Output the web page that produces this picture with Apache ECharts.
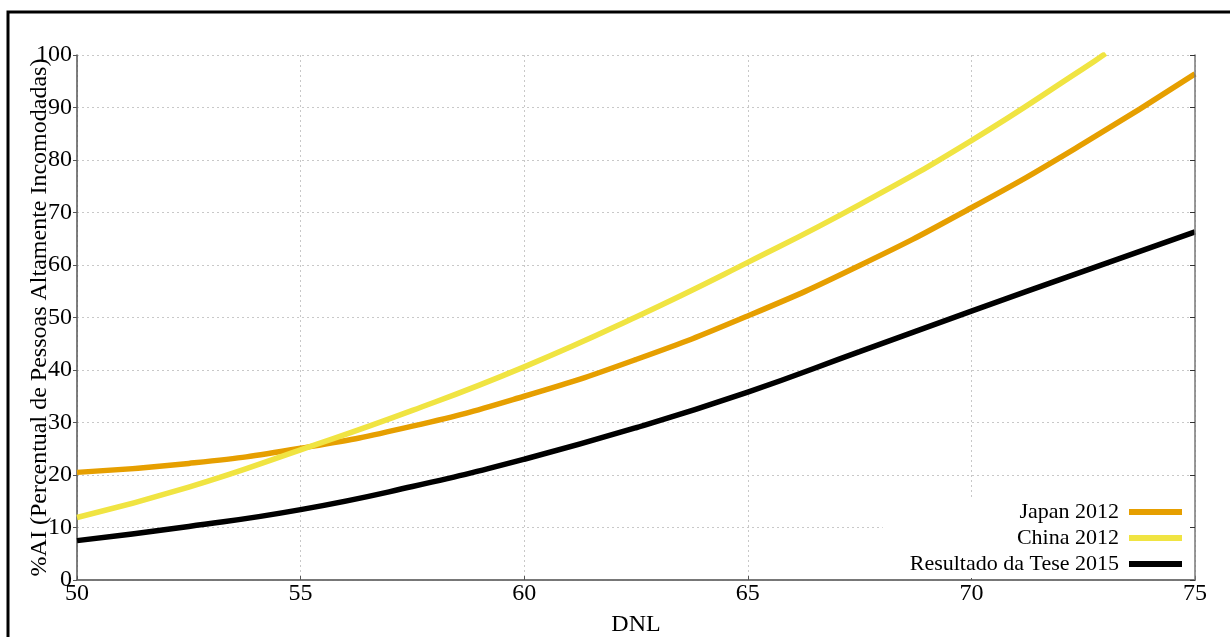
<!DOCTYPE html>
<html>
<head>
<meta charset="utf-8">
<script src="https://cdn.jsdelivr.net/npm/echarts@6/dist/echarts.min.js"></script>
<style>
  html, body { margin: 0; padding: 0; background: #fff; }
  #chart { width: 1230px; height: 637px; }
</style>
</head>
<body>
<div id="chart"></div>
<script>
// DNL sample positions (dB)
const dnl = [50, 52.5, 55, 57.5, 60, 62.5, 65, 67.5, 70, 72.5, 75];
const dnlChina = [50, 52.5, 55, 57.5, 60, 62.5, 65, 67.5, 70, 72.5, 73];

// %HA curves
const japan2012 = [20.5, 22.2, 25.1, 29.3, 35.0, 42.0, 50.3, 59.9, 70.9, 83.1, 96.4];
const china2012 = [11.9, 17.7, 24.8, 32.3, 40.6, 50.1, 60.5, 71.5, 83.7, 97.4, 100.3];
const tese2015  = [7.5, 10.2, 13.4, 17.8, 23.0, 29.0, 35.8, 43.5, 51.2, 58.8, 66.3];

const seriesNames = ['Japan 2012', 'China 2012', 'Resultado da Tese 2015'];
const seriesColors = ['#E69F00', '#F0E442', '#000000'];

const xTicks = [50, 55, 60, 65, 70, 75];
const yTicks = [0, 10, 20, 30, 40, 50, 60, 70, 80, 90, 100];

const FONT = '"Liberation Serif", "Times New Roman", serif';
const FS = 24;

function pairs(xs, ys) { return xs.map((x, i) => [x, ys[i]]); }

const chart = echarts.init(document.getElementById('chart'), null, { renderer: 'canvas' });

const gridLine = { show: true, lineStyle: { color: '#c8c8c8', type: [2, 3], width: 1 } };

chart.setOption({
  animation: false,
  backgroundColor: '#fff',
  textStyle: { fontFamily: FONT },
  grid: { left: 77, right: 35, top: 55, bottom: 57, show: false, containLabel: false, outerBoundsMode: 'none' },
  graphic: [{
    type: 'rect',
    shape: { x: 8, y: 12, width: 1240, height: 640 },
    style: { fill: null, stroke: '#000', lineWidth: 3 },
    z: 100,
    silent: true
  }],
  xAxis: [{
    type: 'value',
    min: xTicks[0], max: xTicks[xTicks.length - 1], interval: 5,
    name: 'DNL', nameLocation: 'middle', nameGap: 33, nameMoveOverlap: false,
    nameTextStyle: { fontFamily: FONT, fontSize: FS, color: '#000' },
    axisLine: { show: true, onZero: false, lineStyle: { color: '#555', width: 1.5 } },
    axisTick: { show: true, inside: true, length: 4, lineStyle: { color: '#555' } },
    axisLabel: { fontFamily: FONT, fontSize: FS, color: '#000', margin: 2 },
    splitLine: gridLine
  }, {
    type: 'value', position: 'top',
    min: xTicks[0], max: xTicks[xTicks.length - 1], interval: 5,
    axisLine: { show: true, lineStyle: { color: '#777', width: 1.5 } },
    axisTick: { show: false }, axisLabel: { show: false }, splitLine: { show: false }
  }],
  yAxis: [{
    type: 'value',
    min: yTicks[0], max: yTicks[yTicks.length - 1], interval: 10,
    name: '%AI (Percentual de Pessoas Altamente Incomodadas)',
    nameLocation: 'middle', nameGap: 25, nameMoveOverlap: false,
    nameTextStyle: { fontFamily: FONT, fontSize: FS, color: '#000' },
    axisLine: { show: true, onZero: false, lineStyle: { color: '#555', width: 1.5 } },
    axisTick: { show: true, inside: false, length: 4, lineStyle: { color: '#555' } },
    axisLabel: { fontFamily: FONT, fontSize: FS, color: '#000', margin: 5 },
    splitLine: gridLine
  }, {
    type: 'value', position: 'right', z: 10,
    min: yTicks[0], max: yTicks[yTicks.length - 1], interval: 10,
    axisLine: { show: true, onZero: false, lineStyle: { color: '#777', width: 1.5 } },
    axisTick: { show: true, inside: true, length: 5, lineStyle: { color: '#333' } },
    axisLabel: { show: false }, splitLine: { show: false }
  }],
  legend: {
    orient: 'vertical',
    right: 36, bottom: 59,
    align: 'right',
    icon: 'rect',
    itemWidth: 53, itemHeight: 6,
    itemGap: 4,
    padding: [4, 12, 3, 27],
    backgroundColor: '#fff',
    textStyle: { fontFamily: FONT, fontSize: 22, color: '#000', padding: [0, 5, 0, 0] },
    data: seriesNames
  },
  series: [
    { name: seriesNames[0], type: 'line', smooth: true, showSymbol: false,
      data: pairs(dnl, japan2012), color: seriesColors[0],
      lineStyle: { width: 5.5, color: seriesColors[0] } },
    { name: seriesNames[1], type: 'line', smooth: true, showSymbol: false,
      data: pairs(dnlChina, china2012), color: seriesColors[1],
      lineStyle: { width: 5.5, color: seriesColors[1] } },
    { name: seriesNames[2], type: 'line', smooth: true, showSymbol: false,
      data: pairs(dnl, tese2015), color: seriesColors[2],
      lineStyle: { width: 5.5, color: seriesColors[2] } }
  ]
});
</script>
</body>
</html>
